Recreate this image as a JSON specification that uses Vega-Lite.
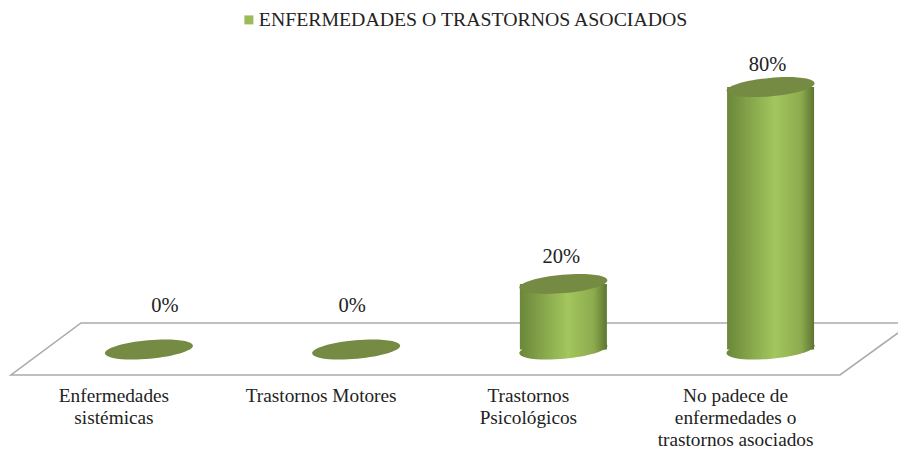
{
"$schema":"https://vega.github.io/schema/vega-lite/v6.json",
"width":898,"height":449,
"autosize":{"type":"none"},
"padding":0,
"background":"white",
"config":{"view":{"stroke":null},"text":{"font":"Liberation Serif","color":"#222222"}},
"datasets":{
"main":[
{"categoria":"Enfermedades|sistémicas","pos":0,"pct":0,"etiqueta":"0%","serie":"ENFERMEDADES O TRASTORNOS ASOCIADOS"},
{"categoria":"Trastornos Motores","pos":1,"pct":0,"etiqueta":"0%","serie":"ENFERMEDADES O TRASTORNOS ASOCIADOS"},
{"categoria":"Trastornos|Psicológicos","pos":2,"pct":20,"etiqueta":"20%","serie":"ENFERMEDADES O TRASTORNOS ASOCIADOS"},
{"categoria":"No padece de|enfermedades o|trastornos asociados","pos":3,"pct":80,"etiqueta":"80%","serie":"ENFERMEDADES O TRASTORNOS ASOCIADOS"}
],
"piso":[
{"pos":3.615,"pct":8.08,"orden":1},
{"pos":-0.328,"pct":8.08,"orden":2},
{"pos":-0.666,"pct":-7.77,"orden":3},
{"pos":3.335,"pct":-7.77,"orden":4},
{"pos":3.615,"pct":5.03,"orden":5}
]},
"encoding":{
"x":{"field":"pos","type":"quantitative","axis":null,"scale":{"domain":[-0.719,3.615],"nice":false,"zero":false,"padding":0}},
"y":{"field":"pct","type":"quantitative","axis":null,"scale":{"domain":[-30.34,106.55],"nice":false,"zero":false}}
},
"layer":[
{"data":{"name":"piso"},"mark":{"type":"line","color":"#ababab","strokeWidth":1.6,"interpolate":"linear"},"encoding":{"order":{"field":"orden","type":"ordinal"}}},
{"data":{"name":"main"},"mark":{"type":"bar","width":84,"orient":"vertical"},
 "encoding":{"y2":{"datum":0},"color":{"field":"serie","type":"nominal","scale":{"range":["#9BBB59"]},
 "legend":{"orient":"none","legendX":239,"legendY":10,"title":null,"padding":0,"symbolType":"square","symbolSize":81,"symbolStrokeWidth":0,"labelFont":"Liberation Serif","labelFontSize":19.8,"labelColor":"#222222","labelLimit":0,"labelOffset":0}}}},
{"data":{"name":"main"},"transform":[{"filter":"datum.pct > 0"}],
 "mark":{"type":"point","filled":true,"opacity":1,"strokeWidth":0,"size":7744,"shape":"M-1,0.09 A1.004,0.21,-5.1,1,1,1,-0.09 A1.004,0.21,-5.1,1,1,-1,0.09 Z",
 "fill":{"x1":0,"y1":0,"x2":1,"y2":0,"gradient":"linear","stops":[{"offset":0,"color":"#6b873a"},{"offset":0.55,"color":"#a3c65d"},{"offset":0.85,"color":"#8cab4e"},{"offset":1,"color":"#5d7531"}]}},
 "encoding":{"y":{"datum":0}}},
{"data":{"name":"main"},"transform":[{"filter":"datum.pct > 0"}],
 "mark":{"type":"bar","width":87,"orient":"vertical",
 "fill":{"x1":0,"y1":0,"x2":1,"y2":0,"gradient":"linear","stops":[{"offset":0,"color":"#6b873a"},{"offset":0.55,"color":"#a3c65d"},{"offset":0.85,"color":"#8cab4e"},{"offset":1,"color":"#5d7531"}]}},
 "encoding":{"y2":{"datum":0}}},
{"data":{"name":"main"},
 "mark":{"type":"point","filled":true,"opacity":1,"strokeWidth":0,"size":7744,"fill":"#758b43","shape":"M-1,0.09 A1.004,0.21,-5.1,1,1,1,-0.09 A1.004,0.21,-5.1,1,1,-1,0.09 Z"}},
{"data":{"name":"main"},"transform":[{"filter":"datum.pos == 3"}],
 "mark":{"type":"text","fontSize":20.5,"dy":-22,"dx":-3,"baseline":"middle"},
 "encoding":{"text":{"field":"etiqueta"}}},
{"data":{"name":"main"},"transform":[{"filter":"datum.pos == 2"}],
 "mark":{"type":"text","fontSize":20.5,"dy":-27,"dx":-2,"baseline":"middle"},
 "encoding":{"text":{"field":"etiqueta"}}},
{"data":{"name":"main"},"transform":[{"filter":"datum.pos == 0"}],
 "mark":{"type":"text","fontSize":20.5,"dy":-43,"dx":16,"baseline":"middle"},
 "encoding":{"text":{"field":"etiqueta"}}},
{"data":{"name":"main"},"transform":[{"filter":"datum.pos == 1"}],
 "mark":{"type":"text","fontSize":20.5,"dy":-43,"dx":-4,"baseline":"middle"},
 "encoding":{"text":{"field":"etiqueta"}}},
{"data":{"name":"main"},
 "mark":{"type":"text","fontSize":19.3,"baseline":"top","lineBreak":"|","lineHeight":22,"dx":-35},
 "encoding":{"y":{"datum":-11.3},"text":{"field":"categoria"}}}
]
}
